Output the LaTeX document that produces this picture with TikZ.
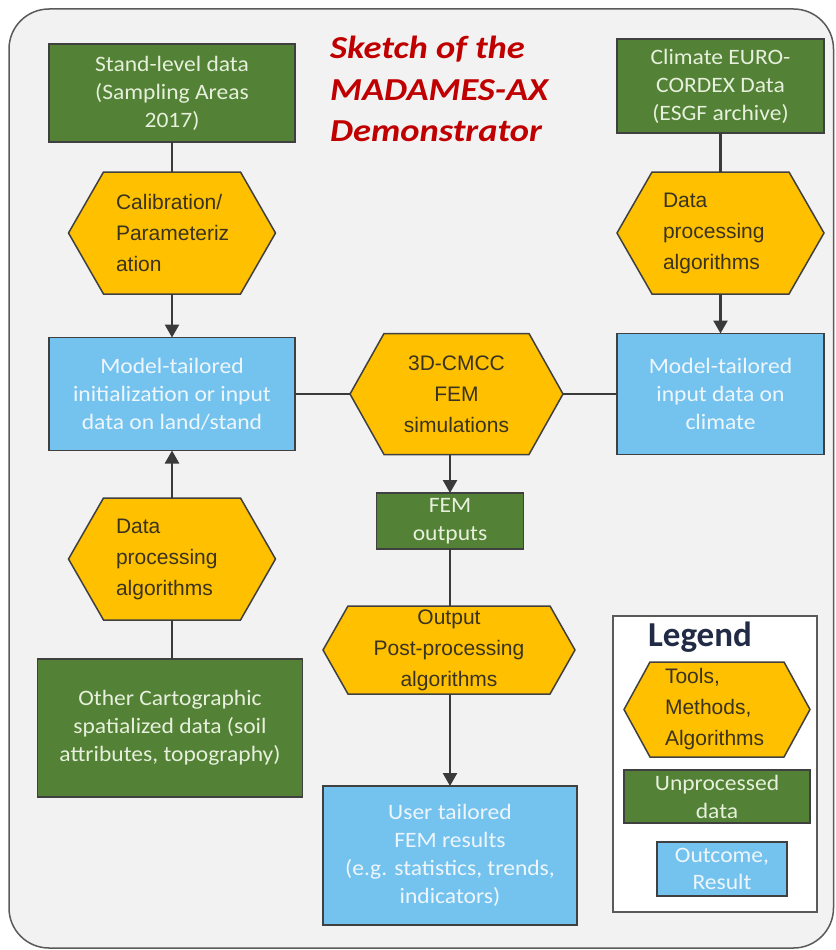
\documentclass[tikz,border=0pt]{standalone}
\usepackage{fontspec}
\usetikzlibrary{arrows.meta,backgrounds}
\newfontfamily\boxfont[FakeStretch=1.07]{Carlito}
\newfontfamily\hexfont{Liberation Sans}
\newfontfamily\titlefont[FakeStretch=1.14]{Carlito}
\newfontfamily\legfont{Carlito}
\definecolor{dgreen}{HTML}{538135}
\definecolor{lblue}{HTML}{74C3EF}
\definecolor{gold}{HTML}{FFC000}
\definecolor{bord}{HTML}{404040}
\definecolor{lnk}{HTML}{3A3A3A}
\definecolor{gtext}{HTML}{E6F0DC}
\definecolor{btext}{HTML}{EEF6FC}
\definecolor{hextext}{HTML}{3A3320}
\definecolor{bgfill}{HTML}{F2F2F2}
\definecolor{outerbord}{HTML}{5A5A5A}
\definecolor{titlered}{HTML}{C00000}
\definecolor{legtitle}{HTML}{222B45}
\newcommand\hexbg[2]{%
  \begin{pgfonlayer}{background}
  \draw[hexshape] (#1.west) -- ([xshift=#2pt]#1.north west) -- ([xshift=-#2pt]#1.north east)
    -- (#1.east) -- ([xshift=-#2pt]#1.south east) -- ([xshift=#2pt]#1.south west) -- cycle;
  \end{pgfonlayer}}
\begin{document}
\begin{tikzpicture}[x=1pt,y=-1pt,
  box/.style={rectangle, draw=bord, line width=1.5pt, outer sep=0pt, inner sep=2pt, align=center,
    font=\boxfont\fontsize{22}{28}\selectfont},
  gbox/.style={box, fill=dgreen, text=gtext},
  bbox/.style={box, fill=lblue, text=btext},
  hexa/.style={rectangle, draw=none, outer sep=0pt, inner sep=0pt, text=hextext,
    font=\hexfont\fontsize{21}{31}\selectfont},
  hexshape/.style={fill=gold, draw=bord, line width=1.5pt, line join=miter},
  link/.style={draw=lnk, line width=2.5pt},
  arr/.style={link, -{Triangle[length=13pt,width=14pt]}}
]
\useasboundingbox (0,0) rectangle (835,950);
\begin{pgfonlayer}{background}
\draw[fill=bgfill, draw=outerbord, line width=1.5pt, rounded corners=40pt] (9,9) rectangle (833.5,948);
% legend frame
\node[rectangle, draw=outerbord, fill=white, line width=1.5pt, minimum width=204pt, minimum height=296pt] (legend) at (715,764) {};
\end{pgfonlayer}

% title
\node[anchor=west, inner sep=0pt, align=left, text=titlered,
  font=\titlefont\bfseries\itshape\fontsize{32}{41.5}\selectfont] (title) at (330,89)
  {Sketch of the\\MADAMES-AX\\Demonstrator};

% left column
\node[gbox, minimum width=246pt, minimum height=98pt] (stand) at (172,93)
  {Stand-level data\\(Sampling Areas\\2017)};
\node[hexa, minimum width=207pt, minimum height=122pt, text width=112pt, align=left] (calib) at (172,233)
  {Calibration/\\Parameteriz\\ation};
\node[bbox, minimum width=246pt, minimum height=113pt] (init) at (172,394)
  {Model-tailored\\initialization or input\\data on land/stand};
\node[hexa, minimum width=207pt, minimum height=122pt, text width=112pt, align=left] (dprocL) at (172,559)
  {Data\\processing\\algorithms};
\node[gbox, minimum width=265pt, minimum height=138pt] (other) at (170,728)
  {Other Cartographic\\spatialized data (soil\\attributes, topography)};

% right column
\node[gbox, minimum width=207pt, minimum height=94pt] (climate) at (720.5,86)
  {Climate EURO-\\CORDEX Data\\(ESGF archive)};
\node[hexa, minimum width=207pt, minimum height=122pt, text width=115pt, align=left] (dprocR) at (720.5,233)
  {Data\\processing\\algorithms};
\node[bbox, minimum width=207pt, minimum height=121pt] (clim) at (720.5,394)
  {Model-tailored\\input data on\\climate};

% centre column
\node[hexa, minimum width=213pt, minimum height=121pt, align=center] (fem) at (456.5,394)
  {3D-CMCC\\FEM\\simulations};
\node[gbox, minimum width=147pt, minimum height=56pt] (femout) at (450,521)
  {FEM\\outputs};
\node[hexa, minimum width=252pt, minimum height=88pt, align=center] (post) at (449,650)
  {Output\\Post-processing\\algorithms};
\node[bbox, minimum width=254pt, minimum height=139pt] (user) at (450,855.5)
  {User tailored\\FEM results\\(e.g. statistics, trends,\\indicators)};

% legend content
\node[text=legtitle, font=\legfont\bfseries\fontsize{35}{40}\selectfont, inner sep=0pt] (legtitle) at (700,637) {Legend};
\node[hexa, minimum width=186pt, minimum height=95pt, text width=104pt, align=left] (tools) at (717,709.5)
  {Tools,\\Methods,\\Algorithms};
\node[gbox, minimum width=186pt, minimum height=53pt] (unproc) at (717,796.5)
  {Unprocessed\\data};
\node[bbox, minimum width=130pt, minimum height=54pt, font=\boxfont\fontsize{22}{27}\selectfont] (outcome) at (722,869)
  {Outcome,\\Result};

% hexagon outlines
\hexbg{calib}{35}
\hexbg{dprocL}{35}
\hexbg{dprocR}{35}
\hexbg{fem}{34}
\hexbg{post}{25}
\hexbg{tools}{26}

% connectors
\draw[link] (stand.south) -- (calib.north);
\draw[arr] (calib.south) -- (init.north);
\draw[arr] (dprocL.north) -- (init.south);
\draw[link] (dprocL.south) -- (dprocL.south |- other.north);
\draw[link] (climate.south) -- (dprocR.north);
\draw[arr] (dprocR.south) -- (clim.north);
\draw[link] (init.east) -- (fem.west);
\draw[link] (fem.east) -- (clim.west);
\draw[arr] (fem.south -| femout.north) -- (femout.north);
\draw[link] (femout.south) -- (post.north -| femout.south);
\draw[arr] (post.south -| user.north) -- (user.north);
\end{tikzpicture}
\end{document}
